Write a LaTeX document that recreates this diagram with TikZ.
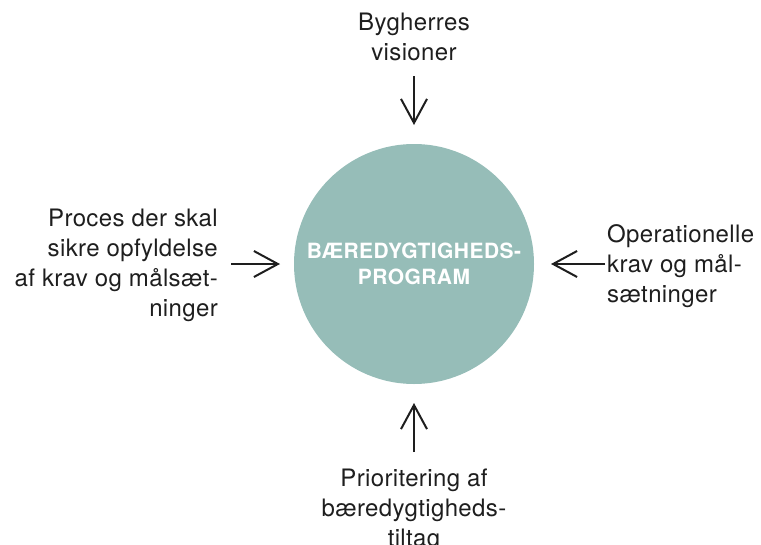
\documentclass[tikz,border=0pt]{standalone}
\usepackage{fontspec}
\setmainfont{TeX Gyre Heros}[LetterSpace=1.5]
\newfontfamily\fedfont{TeX Gyre Heros}[LetterSpace=2]
\usetikzlibrary{arrows.meta}

\definecolor{cirkelfarve}{HTML}{96BDB8}
\definecolor{tekstfarve}{HTML}{1E1E1E}

\tikzset{
	tekst/.style={inner sep=0pt, text=tekstfarve, font=\fontsize{24}{30}\selectfont},
	cirkel/.style={circle, fill=cirkelfarve, minimum size=240pt, inner sep=0pt, outer sep=0pt,
		text=white, align=center, font=\fedfont\bfseries\fontsize{21}{26}\selectfont},
	pil/.style={line width=2pt, draw=tekstfarve, -{Straight Barb[length=24pt,width=26pt,line width=2pt]}}
}

\begin{document}
\begin{tikzpicture}[x=1pt,y=-1pt]
				\useasboundingbox (0,0) rectangle (761,544);
				
				% midten
				\node[cirkel] (program) at (414,264) {BÆREDYGTIGHEDS-\\PROGRAM};
				
				% de fire tekster
				\node[tekst, align=center] (vision) at (414,37) {Bygherres\\visioner};
				\node[tekst, align=right, anchor=east] (proces) at (218,265) {Proces der skal\\sikre opfyldelse\\af krav og målsæt-\\ninger};
				\node[tekst, align=left, anchor=west] (krav) at (607,266) {Operationelle\\krav og mål-\\sætninger};
				\node[tekst, align=center] (prioritering) at (414,510) {Prioritering af\\bæredygtigheds-\\tiltag};
				
				% pilenes haler
				\coordinate (visionhale) at (414,76);
				\coordinate (proceshale) at (231,264);
				\coordinate (kravhale) at (605,264);
				\coordinate (prioriteringhale) at (414,452);
				
				\draw[pil, shorten >=19pt] (visionhale) -- (program.north);
				\draw[pil, shorten >=14pt] (proceshale) -- (program.west);
				\draw[pil, shorten >=17pt] (kravhale) -- (program.east);
				\draw[pil, shorten >=19pt] (prioriteringhale) -- (program.south);
			\end{tikzpicture}
\end{document}
